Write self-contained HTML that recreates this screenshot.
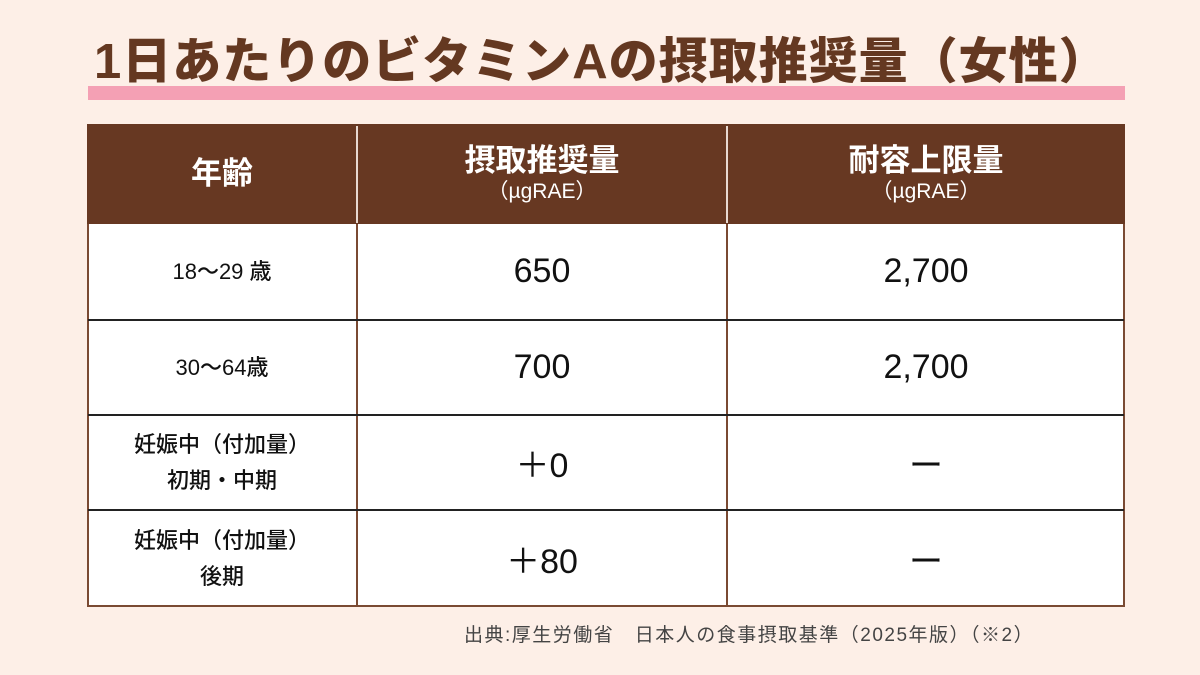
<!DOCTYPE html>
<html><head><meta charset="utf-8"><style>
body{margin:0;width:1200px;height:675px;background:#fdefe7;position:relative;overflow:hidden;font-family:"Liberation Sans","Noto Sans CJK JP",sans-serif}
.a{position:absolute}
.t{left:94px;top:32px;font-size:49px;font-weight:900;color:#643821;white-space:nowrap;letter-spacing:1px;line-height:60px}
.c{position:absolute;display:flex;flex-direction:column;align-items:center;justify-content:center;text-align:center}
.h{color:#fff;font-size:31px;line-height:36px;font-weight:bold}
.h small{font-size:21px;line-height:26px;font-weight:normal}
.r{color:#111;font-size:22px;line-height:36px;font-weight:500}
.n{color:#111;font-size:34px}
</style></head><body>
<div class="a" style="left:88px;top:86px;width:1037px;height:14px;background:#f4a0b4"></div>
<div class="a t">1日あたりのビタミンAの摂取推奨量（女性）</div>
<div class="a" style="left:87px;top:124px;width:1038px;height:100px;background:#673822"></div>
<div class="a" style="left:87px;top:224px;width:1038px;height:383px;background:#fff;box-sizing:border-box;border:2px solid #7a4a33;border-top:none"></div>
<div class="a" style="left:356px;top:126px;width:2px;height:97px;background:#e8d8d0"></div>
<div class="a" style="left:726px;top:126px;width:2px;height:97px;background:#e8d8d0"></div>
<div class="a" style="left:356px;top:224px;width:2px;height:383px;background:#7a4a33"></div>
<div class="a" style="left:726px;top:224px;width:2px;height:383px;background:#7a4a33"></div>
<div class="a" style="left:88px;top:319px;width:1036px;height:2px;background:#222"></div>
<div class="a" style="left:88px;top:414px;width:1036px;height:2px;background:#222"></div>
<div class="a" style="left:88px;top:509px;width:1036px;height:2px;background:#222"></div>
<div class="c h" style="left:88px;top:124px;width:268px;height:100px">年齢</div>
<div class="c h" style="left:358px;top:124px;width:368px;height:100px"><span>摂取推奨量</span><small>（µgRAE）</small></div>
<div class="c h" style="left:728px;top:124px;width:396px;height:100px"><span>耐容上限量</span><small>（µgRAE）</small></div>
<div class="c r" style="left:88px;top:224px;width:268px;height:95px">18～29 歳</div>
<div class="c r" style="left:88px;top:321px;width:268px;height:93px">30～64歳</div>
<div class="c r" style="left:88px;top:416px;width:268px;height:93px"><span>妊娠中（付加量）</span><span>初期・中期</span></div>
<div class="c r" style="left:88px;top:511px;width:268px;height:95px"><span>妊娠中（付加量）</span><span>後期</span></div>
<div class="c n" style="left:358px;top:224px;width:368px;height:95px">650</div>
<div class="c n" style="left:358px;top:321px;width:368px;height:93px">700</div>
<div class="c n" style="left:358px;top:416px;width:368px;height:93px">＋0</div>
<div class="c n" style="left:358px;top:511px;width:368px;height:95px">＋80</div>
<div class="c n" style="left:728px;top:224px;width:396px;height:95px">2,700</div>
<div class="c n" style="left:728px;top:321px;width:396px;height:93px">2,700</div>
<div class="c n" style="left:728px;top:416px;width:396px;height:93px">ー</div>
<div class="c n" style="left:728px;top:511px;width:396px;height:95px">ー</div>
<div class="a" style="left:464px;top:620px;font-size:19px;color:#444;white-space:nowrap;letter-spacing:1.5px">出典:厚生労働省　日本人の食事摂取基準（2025年版）（※2）</div>
</body></html>
